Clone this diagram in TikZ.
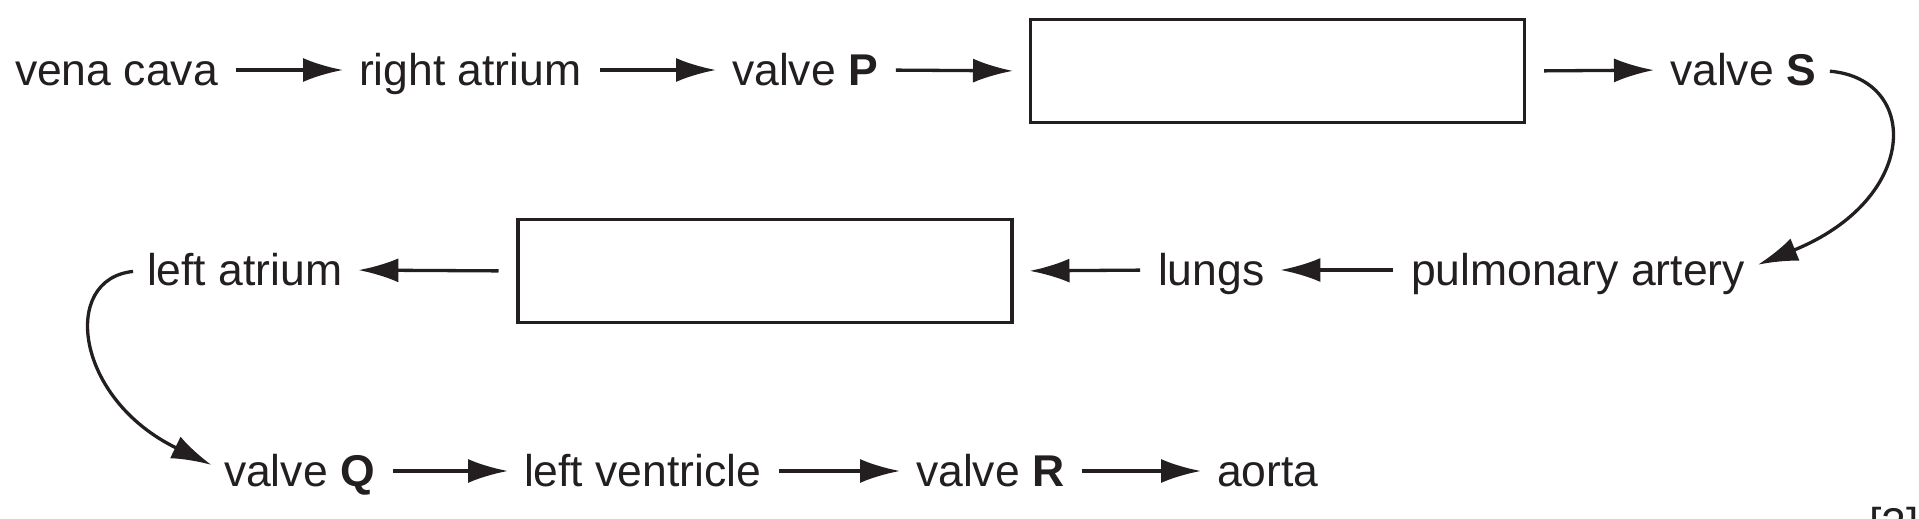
\documentclass[tikz,border=0pt]{standalone}
\usepackage{fontspec}
\setmainfont{Liberation Sans}
\usetikzlibrary{arrows.meta}
\definecolor{ink}{HTML}{231F20}
\begin{document}
\begin{tikzpicture}[x=1pt,y=1pt,color=ink,
  lbl/.style={anchor=west,inner sep=0,outer sep=0,text height=31pt,text depth=0pt,font=\fontsize{44.5}{50}\selectfont},
  box/.style={draw,line width=3.3pt,minimum width=494pt,minimum height=103pt,inner sep=0,outer sep=1.5pt},
  arr/.style={line width=3.3pt,-{Latex[length=40pt,width=24pt]},shorten <=18pt,shorten >=16pt},
  carr/.style={line width=3.3pt,-{Latex[length=40pt,width=24pt]},shorten <=14pt,shorten >=14pt}]
\useasboundingbox (0,0) rectangle (1919,519);
\begin{scope}
\clip (0,0) rectangle (1919,519);
\node[lbl] (vc) at (15,449) {vena cava};
\node[lbl] (ra) at (359,449) {right atrium};
\node[lbl] (vp) at (732,449) {valve \textbf{P}};
\node[box] (b1) at (1277.5,448) {};
\node[lbl] (vs) at (1670,449) {valve \textbf{S}};
\node[lbl] (pa) at (1411,249) {pulmonary artery};
\node[lbl] (lu) at (1158,249) {lungs};
\node[box] (b2) at (765,248) {};
\node[lbl] (la) at (147,249) {left atrium};
\node[lbl] (vq) at (224,48) {valve \textbf{Q}};
\node[lbl] (lv) at (524,48) {left ventricle};
\node[lbl] (vr) at (916,48) {valve \textbf{R}};
\node[lbl] (ao) at (1217,48) {aorta};
\node[anchor=north east,inner sep=0,font=\fontsize{44.5}{50}\selectfont] (mk) at (1919,12) {[2]};
\draw[arr] (vc.east) -- (ra.west);
\draw[arr] (ra.east) -- (vp.west);
\draw[arr] (vp.east) -- (b1.west);
\draw[arr] (b1.east) -- (vs.west);
\draw[arr] (pa.west) -- (lu.east);
\draw[arr] (lu.west) -- (b2.east);
\draw[arr] (b2.west) -- (la.east);
\draw[arr] (vq.east) -- (lv.west);
\draw[arr] (lv.east) -- (vr.west);
\draw[arr] (vr.east) -- (ao.west);
\draw[carr] (vs.east) .. controls (1920,440) and (1920,320) .. (pa.east);
\draw[carr] (la.west) .. controls (60,240) and (75,120) .. (vq.west);
\end{scope}
\end{tikzpicture}
\end{document}
